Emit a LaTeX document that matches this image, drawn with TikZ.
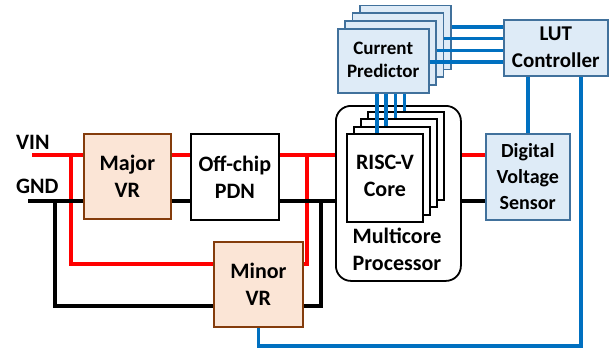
\documentclass[tikz,border=0pt]{standalone}
\usepackage{fontspec}
\setmainfont{Carlito}
\definecolor{pwred}{RGB}{255,0,0}
\definecolor{sigblue}{RGB}{0,112,192}
\definecolor{vrfill}{RGB}{251,229,214}
\definecolor{vrborder}{RGB}{132,60,12}
\definecolor{bxfill}{RGB}{222,235,247}
\definecolor{bxborder}{RGB}{65,113,156}
\newcommand\fbig{\fontsize{22}{27}\selectfont\bfseries}
\newcommand\fcp{\fontsize{19}{23}\selectfont\bfseries}
\newcommand\fdvs{\fontsize{20}{26}\selectfont\bfseries}
\newcommand\flut{\fontsize{21}{27}\selectfont\bfseries}
\begin{document}
\begin{tikzpicture}[x=1pt,y=-1pt,
  wire/.style={line width=3.5pt},
  pw/.style={wire,draw=pwred},
  gw/.style={wire,draw=black},
  sw/.style={wire,draw=sigblue},
  boxbase/.style={line width=1.8pt,anchor=north west,inner sep=0pt,align=center},
  vr/.style={boxbase,draw=vrborder,fill=vrfill,font=\fbig},
  wbox/.style={boxbase,draw=black,fill=white,font=\fbig},
  bbox/.style={boxbase,draw=bxborder,fill=bxfill,line width=1.5pt},
  lbl/.style={anchor=west,inner sep=0pt,font=\fbig},
  txt/.style={inner sep=0pt,align=center}
]
\useasboundingbox (0,0) rectangle (616,356);

% coordinates for wire levels
\coordinate (vin) at (32,155);
\coordinate (gnd) at (28,201);
\coordinate (rj1) at (71,155);
\coordinate (rj2) at (307,155);
\coordinate (bj1) at (55,201);
\coordinate (bj2) at (321,201);
\coordinate (ry) at (0,264);
\coordinate (by) at (0,306);
\coordinate (bb) at (581,346);

% boxes
\node[vr, minimum width=87, minimum height=85] (majvr) at (83,133) {Major\\VR};
\node[wbox, minimum width=88, minimum height=86] (pdn) at (190,133) {Off-chip\\PDN};
\node[vr, minimum width=89, minimum height=85] (minvr) at (213,241) {Minor\\VR};
\node[bbox, minimum width=104, minimum height=56, font=\flut] (lut) at (503,19) {LUT\\Controller};
\node[bbox, minimum width=84, minimum height=86, font=\fdvs] (dvs) at (485,133) {Digital\\Voltage\\Sensor};
\node[boxbase, draw=black, fill=white, rounded corners=15pt, minimum width=125, minimum height=175] (mc) at (335,105) {};

\node[lbl] (vinl) at (16,142) {VIN};
\node[lbl] (gndl) at (16,186) {GND};

% power wires
\draw[pw] (vin) -- (vin -| majvr.west);
\draw[pw] (majvr.east |- vin) -- (pdn.west |- vin);
\draw[pw] (pdn.east |- vin) -- (mc.west |- vin);
\draw[pw] (rj1) |- (minvr.west |- ry);
\draw[pw] (minvr.east |- ry) -| (rj2);
\draw[pw] (mc.east |- vin) -- (dvs.west |- vin);

\draw[gw] (gnd) -- (gnd -| majvr.west);
\draw[gw] (majvr.east |- gnd) -- (pdn.west |- gnd);
\draw[gw] (pdn.east |- gnd) -- (mc.west |- gnd);
\draw[gw] (bj1) |- (minvr.west |- by);
\draw[gw] (minvr.east |- by) -| (bj2);
\draw[gw] (mc.east |- gnd) -- (dvs.west |- gnd);

% signal wires
\draw[sw] (minvr.south) |- (bb) -- (bb |- lut.south);
\draw[sw] (lut.south -| dvs.north) -- (dvs.north);

% stacked predictors and cores
\foreach \k in {3,2,1,0} {
  \node[bbox, minimum width=91, minimum height=64] (cp\k) at ({337+7.4*\k},{28-7.8*\k}) {};
  \node[wbox, minimum width=76, minimum height=88] (core\k) at ({346+7*\k},{133-7.3*\k}) {};
  \coordinate (vx\k) at ({377+9.2*\k},0);
  \coordinate (hy\k) at (0,{62-11.7*\k});
  \draw[sw] (cp\k.south -| vx\k) -- (core\k.north -| vx\k);
  \draw[sw] (cp\k.east |- hy\k) -- (lut.west |- hy\k);
}
\node[txt, font=\fcp] (cptext) at ([yshift=1]cp0.center) {Current\\Predictor};
\node[txt, font=\fbig] (coretext) at ([yshift=2]core0.center) {RISC-V\\Core};
\node[txt, font=\fbig, text depth=0pt] (mctext) at (397,249) {Multicore\\Processor};
\end{tikzpicture}
\end{document}
